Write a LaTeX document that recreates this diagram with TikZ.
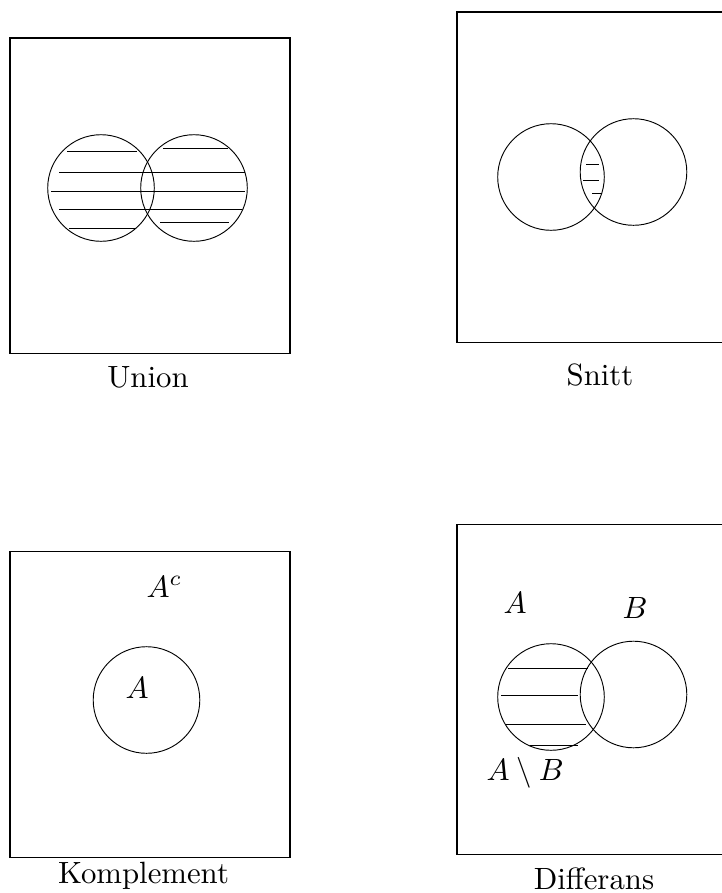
\documentclass[tikz,border=0pt]{standalone}
\begin{document}
\begin{tikzpicture}[x=0.325pt,y=-0.325pt,
  frame/.style={draw,line width=0.33pt},
  venn/.style={draw,line width=0.3pt},
  hatch/.style={line width=0.3pt},
  lbl/.style={inner sep=0pt,anchor=base},
  mlbl/.style={inner sep=0pt,anchor=base west}]
\clip (0,0) rectangle (722,893);
% Union
\draw[frame] (10,38) rectangle (290,353);
\draw[venn] (101,188) circle [radius=53.3];
\draw[venn] (194,188) circle [radius=53.3];
\draw[hatch] (67,151) -- (137,151);
\draw[hatch] (59,172) -- (245,172);
\draw[hatch] (51,191) -- (245,191);
\draw[hatch] (59,209) -- (242,209);
\draw[hatch] (69,228) -- (135,228);
\draw[hatch] (163,148) -- (228,148);
\draw[hatch] (160,222) -- (229,222);
\node[lbl] (union) at (148,387) {Union};
% Snitt
\draw[frame] (457,12) rectangle (745,342);
\draw[venn] (551,177) circle [radius=53.3];
\draw[venn] (633.5,172) circle [radius=53.3];
\draw[hatch] (586,164) -- (599,164);
\draw[hatch] (583,180) -- (599,180);
\draw[hatch] (592,193) -- (602,193);
\node[lbl] (snitt) at (600,385) {Snitt};
% Komplement
\draw[frame] (10,551) rectangle (290,857);
\draw[venn] (146.5,700) circle [radius=53.3];
\node[mlbl] (ac) at (146,597) {$A^c$};
\node[mlbl] (a1) at (125,698) {$A$};
\node[lbl] (kompl) at (143.5,883) {Komplement};
% Differans
\draw[frame] (457,524) rectangle (745,854);
\draw[venn] (551,697) circle [radius=53.3];
\draw[venn] (633.5,694.5) circle [radius=53.3];
\draw[hatch] (508,668) -- (588,668);
\draw[hatch] (501,695) -- (578,695);
\draw[hatch] (506,724) -- (586,724);
\draw[hatch] (530,745) -- (578,745);
\node[mlbl] (a2) at (503,613) {$A$};
\node[mlbl] (b2) at (622,618) {$B$};
\node[mlbl] (amb) at (486,780) {$A\setminus B$};
\node[lbl] (diff) at (594,889) {Differans};
\end{tikzpicture}
\end{document}
